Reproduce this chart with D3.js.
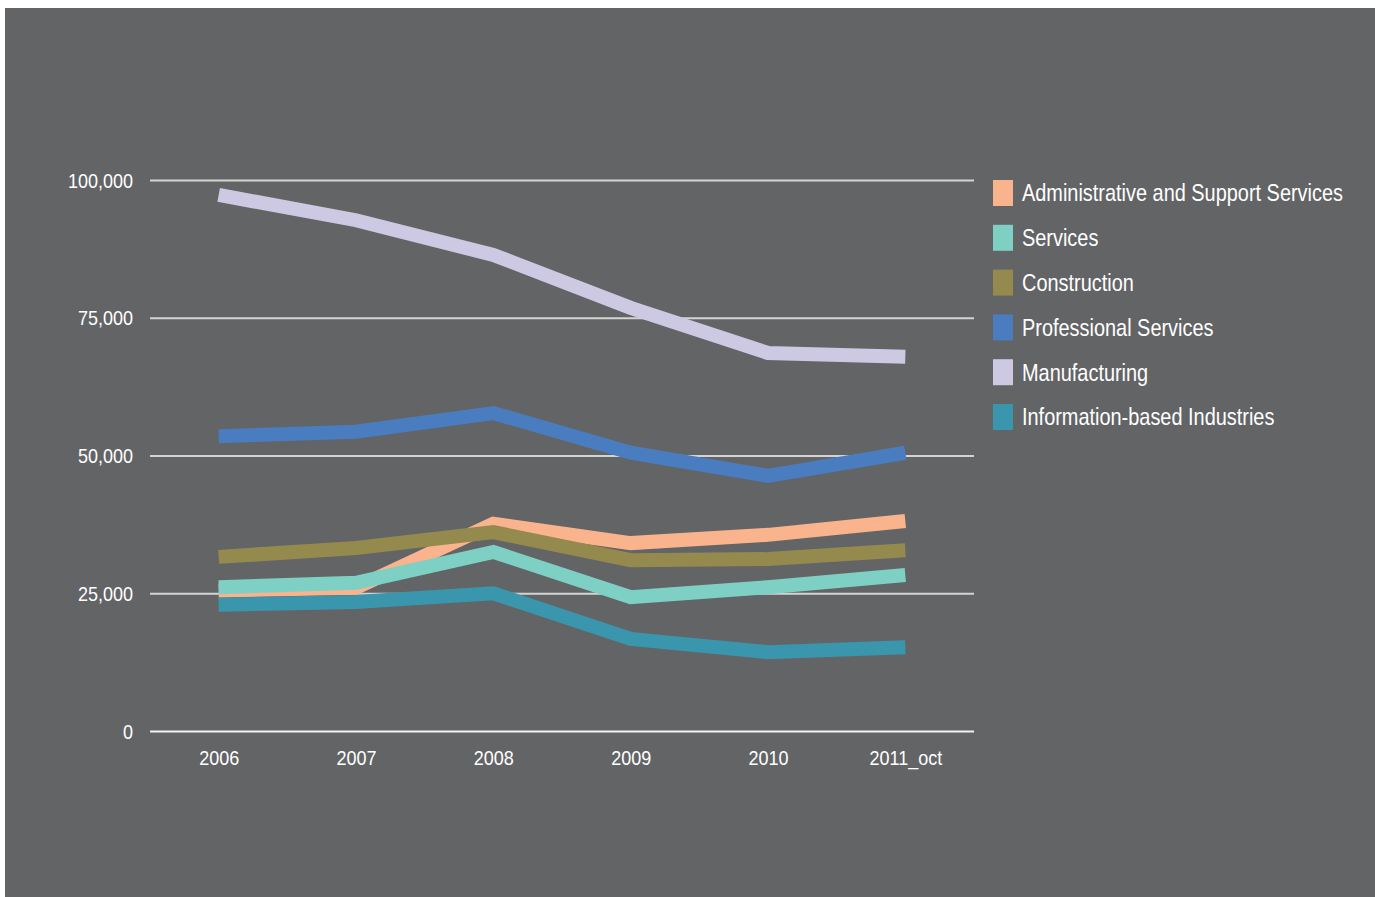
<!DOCTYPE html>
<html><head><meta charset="utf-8">
<script src="https://cdn.jsdelivr.net/npm/d3@7"></script>
<style>
body{margin:0;background:#fff;}
svg{display:block;}
text{font-family:"Liberation Sans","Arial",sans-serif;fill:#fff;}
</style></head><body>
<svg id="chart" width="1375" height="897"></svg>
<script>
const categories = ["2006","2007","2008","2009","2010","2011_oct"];
const seriesNames = ["Administrative and Support Services","Services","Construction","Professional Services","Manufacturing","Information-based Industries"];
const seriesColors = ["#f9b48e","#7dd0c3","#958a4e","#4a7dbf","#cdc9e3","#3a96ad"];
const adminSupport = [25500, 26000, 37600, 34100, 35600, 38100];
const services = [26100, 26900, 32500, 24300, 26100, 28300];
const construction = [31600, 33200, 36100, 31000, 31200, 32800];
const professional = [53500, 54300, 57700, 50500, 46300, 50500];
const manufacturing = [97300, 92700, 86400, 76800, 68600, 67900];
const information = [22900, 23400, 25000, 16700, 14300, 15200];
const yTicks = [0, 25000, 50000, 75000, 100000];

(function(){
const seriesValues = [adminSupport, services, construction, professional, manufacturing, information];
const svg = d3.select("#chart");
svg.append("rect").attr("x",5).attr("y",8).attr("width",1370).attr("height",889).attr("fill","#636466");

const pL=150, pR=974, pT=180, pB=731;
const x = d3.scalePoint().domain(categories).range([pL,pR]).padding(0.5);
const y = d3.scaleLinear().domain([0,100000]).range([pB,pT]);

const yAxis = d3.axisLeft(y).tickValues(yTicks).tickSize(-(pR-pL)).tickFormat(d3.format(","));
const gy = svg.append("g").attr("transform",`translate(${pL},0)`).call(yAxis);
gy.select(".domain").remove();
gy.selectAll(".tick line").attr("stroke",d=>d===0?"#f2f2f2":"#d4d4d4").attr("stroke-width",2);
gy.selectAll(".tick text").attr("x",0).attr("dy","0.35em")
  .attr("transform","translate(-17,0) scale(0.9,1)")
  .attr("font-size",20).style("fill","#fff");

const xAxis = d3.axisBottom(x).tickSize(0);
const gx = svg.append("g").attr("transform",`translate(0,${pB})`).call(xAxis);
gx.select(".domain").remove();
gx.selectAll(".tick text").attr("dy",0).attr("y",0)
  .attr("transform","translate(0,34) scale(0.9,1)")
  .attr("font-size",20).style("fill","#fff");

const line = d3.line().x((d,i)=>x(categories[i])).y(d=>y(d));
seriesValues.forEach((vals,k)=>{
  svg.append("path").datum(vals).attr("d",line).attr("fill","none")
    .attr("stroke",seriesColors[k]).attr("stroke-width",14)
    .attr("stroke-linejoin","miter").attr("stroke-linecap","butt");
});

const lg = svg.append("g");
seriesNames.forEach((n,k)=>{
  const cy = 193 + k*44.8;
  lg.append("rect").attr("x",993).attr("y",cy-13).attr("width",20).attr("height",26).attr("fill",seriesColors[k]);
  lg.append("text").attr("x",0).attr("y",0).attr("dy","0.35em")
    .attr("transform",`translate(1022,${cy}) scale(0.83,1)`)
    .attr("font-size",24).text(n);
});
})();
</script>
</body></html>
